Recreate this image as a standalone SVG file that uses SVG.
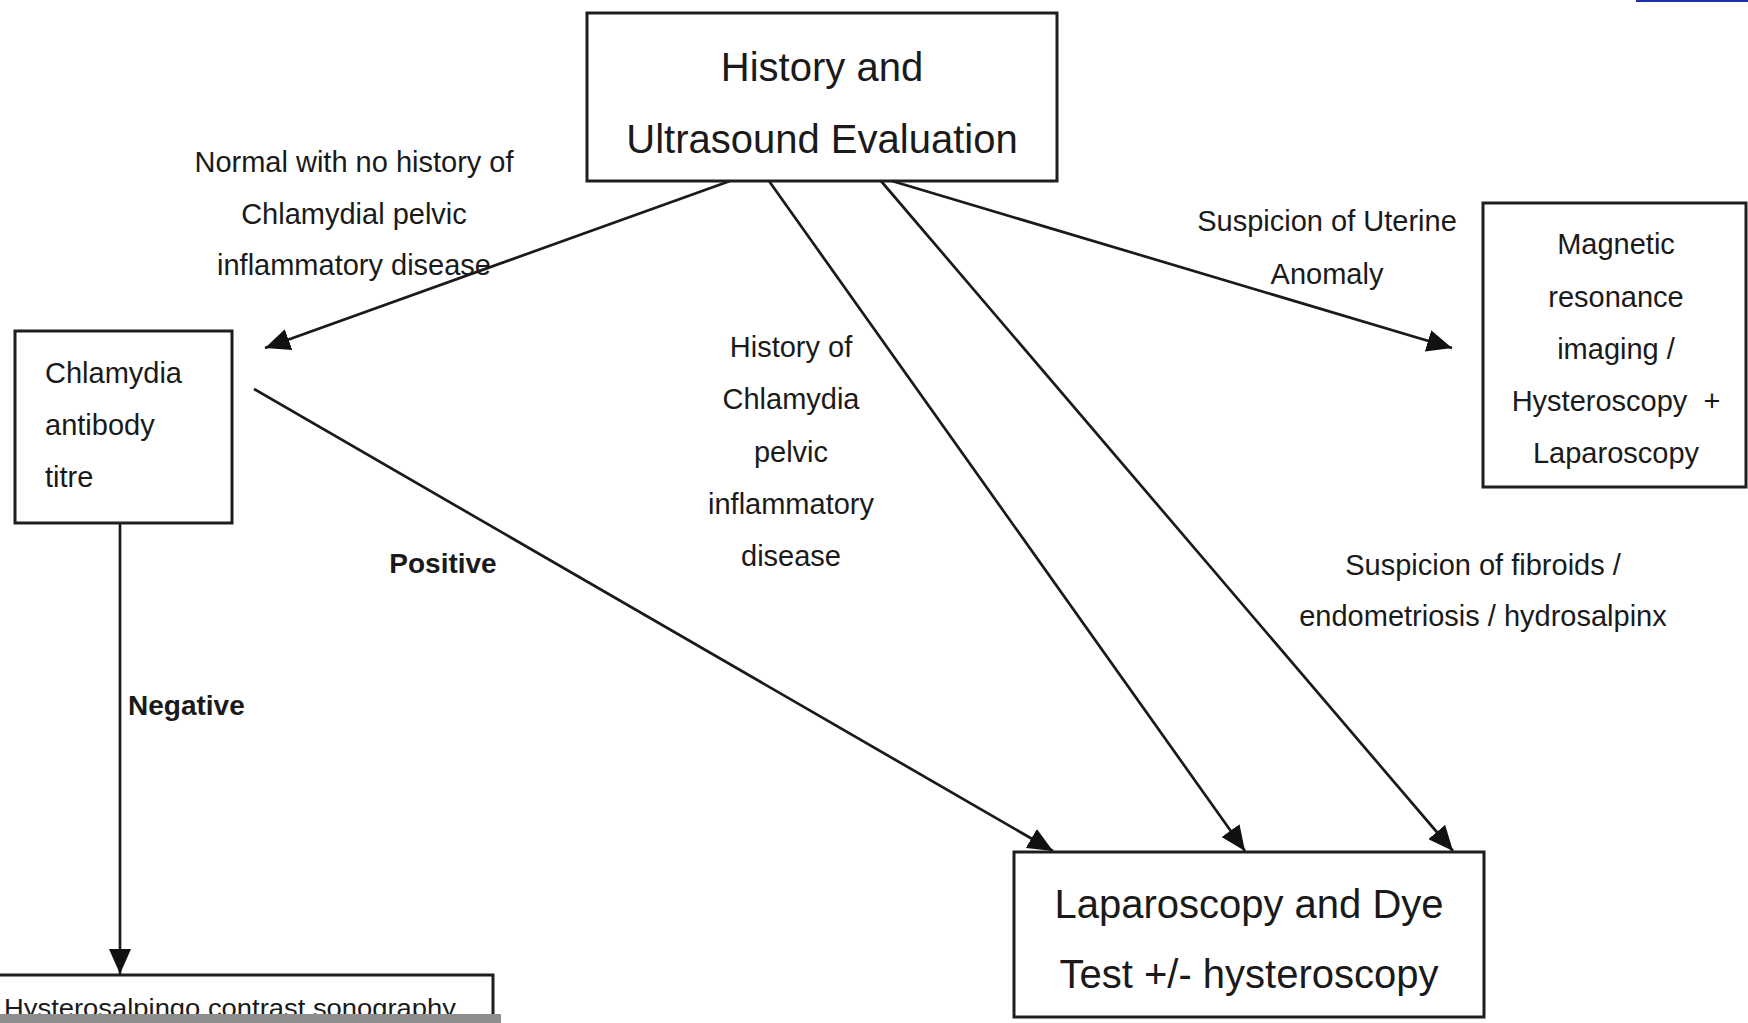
<svg xmlns="http://www.w3.org/2000/svg" width="1748" height="1023" viewBox="0 0 1748 1023">
<style>
.box{fill:#fff;stroke:#1e1e1e;stroke-width:3}
.t{font-family:"Liberation Sans",Arial,sans-serif;fill:#1a1a1a}
.big{font-size:40px}
.mid{font-size:29px}
.lbl{font-size:29px}
.b{font-weight:bold;font-size:28px}
.c{text-anchor:middle}
.ln{stroke:#1a1a1a;stroke-width:2.7;fill:none;marker-end:url(#ah)}
</style>
<defs>
<marker id="ah" markerUnits="userSpaceOnUse" markerWidth="26" markerHeight="22" refX="25" refY="11" orient="auto">
<path d="M0,0 L25,11 L0,22 z" fill="#111"/>
</marker>
</defs>
<rect x="0" y="0" width="1748" height="1023" fill="#fff"/>
<rect x="1636" y="0" width="112" height="2" fill="#1c2fa8"/>

<g id="connectors">
<line class="ln" x1="730" y1="181" x2="265" y2="348"/>
<line class="ln" x1="254" y1="389" x2="1053" y2="851"/>
<line class="ln" x1="769" y1="181" x2="1245" y2="851"/>
<line class="ln" x1="881" y1="181" x2="1453" y2="851"/>
<line class="ln" x1="892" y1="181" x2="1452" y2="348"/>
<line class="ln" x1="120" y1="524" x2="120" y2="974"/>
</g>

<g id="labels">
<text class="t lbl c" x="354" y="172">Normal with no history of</text>
<text class="t lbl c" x="354" y="224">Chlamydial pelvic</text>
<text class="t lbl c" x="354" y="275">inflammatory disease</text>
<text class="t lbl c" x="791" y="357">History of</text>
<text class="t lbl c" x="791" y="409">Chlamydia</text>
<text class="t lbl c" x="791" y="462">pelvic</text>
<text class="t lbl c" x="791" y="514">inflammatory</text>
<text class="t lbl c" x="791" y="566">disease</text>
<text class="t lbl c" x="1327" y="231">Suspicion of Uterine</text>
<text class="t lbl c" x="1327" y="284">Anomaly</text>
<text class="t lbl c" x="1483" y="575">Suspicion of fibroids /</text>
<text class="t lbl c" x="1483" y="626">endometriosis / hydrosalpinx</text>
<text class="t b c" x="443" y="573">Positive</text>
<text class="t b" x="128" y="715">Negative</text>
</g>

<g id="node-history">
<rect class="box" x="587" y="13" width="470" height="168"/>
<text class="t big c" x="822" y="81">History and</text>
<text class="t big c" x="822" y="153">Ultrasound Evaluation</text>
</g>

<g id="node-chlamydia">
<rect class="box" x="15" y="331" width="217" height="192"/>
<text class="t mid" x="45" y="383">Chlamydia</text>
<text class="t mid" x="45" y="435">antibody</text>
<text class="t mid" x="45" y="487">titre</text>
</g>

<g id="node-mri">
<rect class="box" x="1483" y="203" width="263" height="284"/>
<text class="t mid c" x="1616" y="254">Magnetic</text>
<text class="t mid c" x="1616" y="307">resonance</text>
<text class="t mid c" x="1616" y="359">imaging /</text>
<text class="t mid c" x="1616" y="411">Hysteroscopy&#160; +</text>
<text class="t mid c" x="1616" y="463">Laparoscopy</text>
</g>

<g id="node-lap">
<rect class="box" x="1014" y="852" width="470" height="165"/>
<text class="t big c" x="1249" y="918">Laparoscopy and Dye</text>
<text class="t big c" x="1249" y="988">Test +/- hysteroscopy</text>
</g>

<g id="node-hycosy">
<rect class="box" x="-10" y="975" width="503" height="60"/>
<text class="t" x="4" y="1017" font-size="26" textLength="452" lengthAdjust="spacingAndGlyphs">Hysterosalpingo contrast sonography</text>
</g>
<rect x="0" y="1014" width="501" height="9" fill="#8e8e8e"/>
</svg>
